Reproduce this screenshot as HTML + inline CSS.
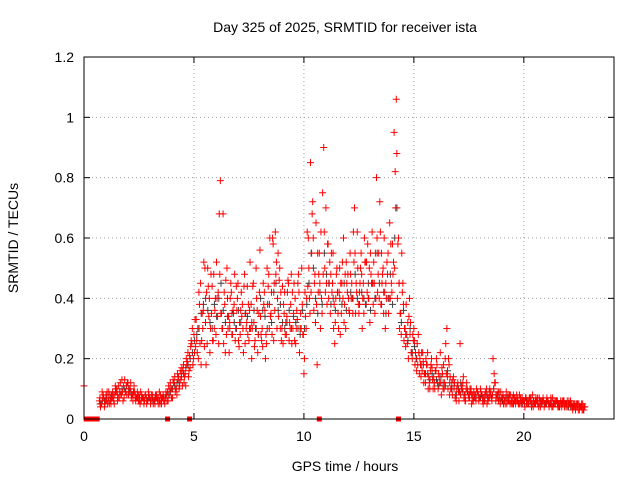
<!DOCTYPE html>
<html><head><meta charset="utf-8"><style>
body{margin:0;background:#fff;}
svg text{font-family:"Liberation Sans",sans-serif;font-size:14px;fill:#000;}
</style></head><body>
<svg id="chart" width="640" height="480">
<text x="345" y="32" text-anchor="middle">Day 325 of 2025, SRMTID for receiver ista</text>
<text x="345" y="471" text-anchor="middle">GPS time / hours</text>
<text transform="translate(18,238) rotate(-90)" text-anchor="middle">SRMTID / TECUs</text>
<g id="grid"></g><g id="ticks"></g><g id="marks"></g>
<rect x="84" y="57" width="530" height="362" fill="none" stroke="#000"/>
</svg>
<script>
const xTicks=[0,5,10,15,20];
const yTicks=[0,0.2,0.4,0.6,0.8,1,1.2];
const yTickLabels=["0","0.2","0.4","0.6","0.8","1","1.2"];
const t0=0.7, dt=0.1;
const redA=[0.06,0.05,0.07,0.08,
0.07,0.06,0.09,0.08,0.10,0.07,0.08,0.11,0.09,0.12,
0.10,0.08,0.09,0.07,0.08,0.06,0.07,0.08,0.06,0.07,
0.07,0.06,0.08,0.07,0.06,0.08,0.07,0.09,0.08,0.10,
0.12,0.10,0.14,0.13,0.16,0.15,0.19,0.21,0.25,0.28,
0.33,0.20,0.45,0.30,0.50,0.25,0.40,0.35,0.48,0.28,
0.42,0.79,0.30,0.38,0.50,0.22,0.42,0.35,0.30,0.45,
0.28,0.38,0.48,0.32,0.26,0.38,0.45,0.30,0.22,0.56,
0.30,0.42,0.25,0.48,0.35,0.58,0.62,0.40,0.50,0.30,
0.35,0.28,0.45,0.38,0.30,0.40,0.33,0.22,0.50,0.15,
0.30,0.60,0.85,0.72,0.48,0.18,0.55,0.40,0.90,0.70,
0.58,0.35,0.45,0.25,0.50,0.42,0.35,0.60,0.30,0.48,
0.55,0.40,0.70,0.42,0.35,0.55,0.45,0.38,0.58,0.32,
0.62,0.45,0.80,0.55,0.38,0.50,0.30,0.48,0.65,0.42,
0.95,1.06,0.60,0.35,0.45,0.30,0.25,0.40,0.22,0.30,
0.20,0.28,0.18,0.22,0.15,0.18,0.12,0.20,0.14,0.16,
0.10,0.22,0.15,0.12,0.30,0.18,0.10,0.14,0.08,0.12,
0.25,0.10,0.08,0.12,0.07,0.10,0.06,0.08,0.09,0.07,
0.08,0.06,0.10,0.07,0.09,0.20,0.12,0.08,0.07,0.06,
0.07,0.09,0.06,0.08,0.05,0.07,0.06,0.08,0.05,0.06,
0.07,0.05,0.06,0.08,0.05,0.06,0.07,0.05,0.06,0.05,
0.06,0.05,0.07,0.05,0.06,0.04,0.05,0.06,0.05,0.04,
0.05,0.04,0.05,0.04,0.05,0.04,0.03];
const redB=[0.04,0.07,0.05,0.09,
0.05,0.08,0.06,0.10,0.07,0.12,0.09,0.13,0.08,0.10,
0.07,0.09,0.06,0.08,0.05,0.07,0.06,0.05,0.08,0.06,
0.05,0.08,0.06,0.05,0.07,0.06,0.08,0.11,0.10,0.13,
0.09,0.15,0.11,0.17,0.12,0.20,0.14,0.24,0.18,0.33,
0.22,0.38,0.26,0.52,0.18,0.44,0.30,0.26,0.36,0.40,
0.68,0.35,0.25,0.46,0.30,0.40,0.28,0.48,0.36,0.24,
0.42,0.22,0.35,0.28,0.52,0.30,0.24,0.40,0.35,0.28,
0.45,0.20,0.38,0.60,0.28,0.45,0.52,0.34,0.42,0.25,
0.28,0.42,0.32,0.25,0.45,0.30,0.48,0.35,0.28,0.42,
0.62,0.40,0.55,0.36,0.65,0.42,0.30,0.75,0.50,0.38,
0.45,0.55,0.30,0.40,0.35,0.28,0.52,0.38,0.45,0.36,
0.40,0.62,0.35,0.50,0.45,0.30,0.60,0.52,0.40,0.48,
0.38,0.55,0.42,0.72,0.45,0.60,0.40,0.35,0.58,0.48,
0.82,0.40,0.30,0.55,0.26,0.38,0.20,0.32,0.28,0.18,
0.25,0.15,0.22,0.12,0.20,0.10,0.16,0.13,0.10,0.18,
0.14,0.08,0.18,0.25,0.10,0.14,0.08,0.12,0.10,0.06,
0.10,0.14,0.06,0.09,0.10,0.06,0.08,0.10,0.06,0.09,
0.05,0.09,0.07,0.10,0.06,0.15,0.08,0.06,0.09,0.08,
0.05,0.06,0.08,0.05,0.07,0.06,0.05,0.07,0.06,0.04,
0.05,0.07,0.04,0.06,0.07,0.05,0.04,0.06,0.05,0.07,
0.04,0.06,0.05,0.06,0.04,0.05,0.06,0.04,0.05,0.06,
0.04,0.05,0.03,0.05,0.04,0.03,0.04];
const redC=[0.07,0.09,0.04,0.06,
0.09,0.05,0.07,0.11,0.06,0.09,0.13,0.07,0.11,0.08,
0.12,0.06,0.07,0.09,0.06,0.08,0.05,0.07,0.09,0.05,
0.08,0.05,0.07,0.09,0.05,0.06,0.09,0.06,0.12,0.07,
0.14,0.08,0.10,0.15,0.18,0.11,0.22,0.17,0.30,0.22,
0.26,0.42,0.18,0.36,0.32,0.50,0.22,0.44,0.30,0.52,
0.25,0.35,0.68,0.22,0.40,0.32,0.28,0.38,0.44,0.26,
0.36,0.30,0.25,0.44,0.36,0.20,0.32,0.50,0.28,0.34,
0.24,0.36,0.50,0.30,0.42,0.26,0.48,0.55,0.30,0.44,
0.42,0.34,0.26,0.48,0.35,0.25,0.45,0.30,0.38,0.20,
0.40,0.50,0.42,0.60,0.32,0.55,0.45,0.35,0.62,0.45,
0.40,0.48,0.55,0.32,0.42,0.50,0.45,0.32,0.52,0.40,
0.48,0.35,0.55,0.62,0.42,0.48,0.35,0.52,0.40,0.55,
0.45,0.35,0.60,0.40,0.55,0.35,0.45,0.55,0.40,0.58,
0.50,0.88,0.45,0.28,0.38,0.24,0.32,0.28,0.20,0.26,
0.16,0.22,0.14,0.19,0.12,0.22,0.10,0.17,0.12,0.20,
0.15,0.12,0.10,0.20,0.14,0.08,0.12,0.10,0.06,0.09,
0.08,0.12,0.06,0.10,0.08,0.05,0.09,0.06,0.08,0.10,
0.06,0.08,0.05,0.09,0.07,0.10,0.06,0.09,0.05,0.07,
0.06,0.05,0.07,0.06,0.08,0.05,0.07,0.05,0.07,0.06,
0.05,0.06,0.07,0.04,0.06,0.07,0.05,0.06,0.04,0.06,
0.05,0.07,0.04,0.05,0.06,0.05,0.04,0.06,0.04,0.05,
0.06,0.03,0.04,0.05,0.03,0.05,0.04];
const redD=[0.05,0.08,0.06,0.05,
0.08,0.07,0.05,0.09,0.11,0.08,0.06,0.09,0.12,0.09,
0.08,0.11,0.07,0.06,0.09,0.07,0.08,0.06,0.07,0.08,
0.06,0.07,0.05,0.08,0.07,0.05,0.06,0.10,0.07,0.12,
0.10,0.13,0.16,0.11,0.14,0.18,0.16,0.26,0.20,0.24,
0.30,0.25,0.35,0.24,0.42,0.34,0.48,0.26,0.40,0.34,
0.48,0.30,0.42,0.28,0.34,0.45,0.36,0.26,0.40,0.32,
0.34,0.44,0.30,0.38,0.30,0.44,0.26,0.36,0.42,0.26,
0.38,0.28,0.44,0.34,0.60,0.36,0.30,0.46,0.26,0.38,
0.32,0.46,0.30,0.42,0.26,0.36,0.42,0.30,0.28,0.34,
0.44,0.35,0.68,0.45,0.38,0.48,0.62,0.48,0.42,0.58,
0.52,0.42,0.38,0.48,0.30,0.45,0.40,0.48,0.42,0.35,
0.45,0.52,0.45,0.38,0.50,0.40,0.52,0.42,0.50,0.45,
0.52,0.40,0.48,0.62,0.48,0.42,0.52,0.40,0.45,0.52,
0.70,0.58,0.35,0.42,0.30,0.28,0.34,0.22,0.26,0.22,
0.18,0.20,0.16,0.15,0.18,0.14,0.18,0.10,0.16,0.12,
0.12,0.17,0.10,0.15,0.20,0.10,0.13,0.07,0.11,0.09,
0.11,0.07,0.10,0.08,0.09,0.08,0.07,0.09,0.07,0.08,
0.07,0.08,0.06,0.08,0.08,0.12,0.07,0.09,0.07,0.05,
0.07,0.08,0.05,0.07,0.06,0.08,0.05,0.06,0.06,0.07,
0.06,0.07,0.05,0.05,0.06,0.04,0.06,0.07,0.05,0.06,
0.05,0.04,0.06,0.06,0.05,0.06,0.05,0.05,0.06,0.05,
0.05,0.04,0.05,0.03,0.04,0.05,0.04];
const greyA=[0.05,0.06,0.06,0.07,
0.06,0.07,0.08,0.09,0.08,0.09,0.10,0.10,0.11,0.10,
0.09,0.08,0.08,0.07,0.07,0.07,0.06,0.07,0.07,0.06,
0.06,0.07,0.07,0.06,0.07,0.07,0.08,0.08,0.09,0.10,
0.11,0.12,0.12,0.14,0.15,0.17,0.18,0.20,0.22,0.26,
0.28,0.30,0.35,0.38,0.40,0.36,0.32,0.30,0.38,0.34,
0.40,0.45,0.36,0.32,0.34,0.30,0.35,0.32,0.30,0.36,
0.32,0.30,0.35,0.34,0.30,0.32,0.36,0.30,0.28,0.40,
0.36,0.34,0.30,0.38,0.32,0.42,0.45,0.36,0.38,0.32,
0.30,0.32,0.36,0.30,0.34,0.32,0.30,0.28,0.36,0.30,
0.38,0.45,0.55,0.50,0.40,0.35,0.42,0.38,0.55,0.48,
0.45,0.38,0.40,0.36,0.42,0.40,0.38,0.45,0.36,0.40,
0.42,0.40,0.48,0.40,0.38,0.42,0.40,0.38,0.45,0.36,
0.45,0.40,0.55,0.45,0.38,0.42,0.35,0.40,0.48,0.38,
0.60,0.70,0.45,0.32,0.36,0.28,0.26,0.30,0.22,0.24,
0.20,0.22,0.18,0.18,0.15,0.15,0.13,0.15,0.12,0.13,
0.11,0.14,0.12,0.11,0.16,0.12,0.10,0.11,0.08,0.10,
0.12,0.09,0.08,0.09,0.07,0.08,0.07,0.07,0.08,0.07,
0.07,0.06,0.08,0.07,0.07,0.10,0.08,0.07,0.06,0.06,
0.06,0.07,0.06,0.06,0.05,0.06,0.06,0.06,0.05,0.05,
0.06,0.05,0.05,0.06,0.05,0.05,0.06,0.05,0.05,0.05,
0.05,0.05,0.05,0.05,0.05,0.04,0.05,0.05,0.05,0.04,
0.04,0.04,0.04,0.04,0.04,0.04,0.03];
const zeroTimes=[0.1,0.2,0.3,0.4,0.5,0.6,3.8,4.8,10.7,14.3];
const stray={t:0,v:0.11};

const X0=84,X1=614,Y0=419,Y1=57,XMAX=24.1,YMAX=1.2;
const xs=t=>X0+t/XMAX*(X1-X0);
const ys=v=>Y0-v/YMAX*(Y0-Y1);
const NS="http://www.w3.org/2000/svg";
function mk(tag,attrs,parent){const e=document.createElementNS(NS,tag);for(const k in attrs)e.setAttribute(k,attrs[k]);parent.appendChild(e);return e;}
const grid=document.getElementById('grid'),ticks=document.getElementById('ticks'),marks=document.getElementById('marks');
xTicks.forEach(t=>{
 const x=xs(t);
 if(t>0){const g=mk('line',{x1:x,x2:x,y1:Y1,y2:Y0,stroke:'#a0a0a0','stroke-dasharray':'1,3'},grid);
 
 }
 mk('line',{x1:x,x2:x,y1:Y0,y2:Y0-6,stroke:'#000'},ticks);
 mk('line',{x1:x,x2:x,y1:Y1,y2:Y1+6,stroke:'#000'},ticks);
 const l=mk('text',{x:x,y:Y0+22,'text-anchor':'middle'},ticks);l.textContent=t;
 
 
});
yTicks.forEach((v,i)=>{
 const y=ys(v);
 if(v>0&&v<YMAX){const g=mk('line',{x1:X0,x2:X1,y1:y,y2:y,stroke:'#a0a0a0','stroke-dasharray':'1,3'},grid);
 
 }
 mk('line',{x1:X0,x2:X0+6,y1:y,y2:y,stroke:'#000'},ticks);
 mk('line',{x1:X1,x2:X1-6,y1:y,y2:y,stroke:'#000'},ticks);
 const l=mk('text',{x:X0-10,y:y+5,'text-anchor':'end'},ticks);l.textContent=yTickLabels[i];
 
 
});
function plus(t,v,color,name){
 const x=xs(t),y=ys(v);
 const p=mk('path',{d:`M${x-3.5},${y}h7M${x},${y-3.5}v7`,stroke:color,'stroke-width':1,fill:'none'},marks);
 
 
}
greyA.forEach((v,i)=>plus(t0+dt*i+0.03,v,'#404040','grey-point'));
redB.forEach((v,i)=>plus(t0+dt*i+0.05,v,'#ff0000','red-point'));
redC.forEach((v,i)=>plus(t0+dt*i+0.025,v,'#ff0000','red-point'));
redD.forEach((v,i)=>plus(t0+dt*i+0.075,v,'#ff0000','red-point'));
redA.forEach((v,i)=>plus(t0+dt*i,v,'#ff0000','red-point'));
plus(stray.t,stray.v,'#ff0000','red-point');
zeroTimes.forEach(t=>{
 const r=mk('rect',{x:xs(t)-2.5,y:Y0-2.5,width:5,height:5,fill:'#ff0000'},marks);
 
 
});
</script>
</body></html>
